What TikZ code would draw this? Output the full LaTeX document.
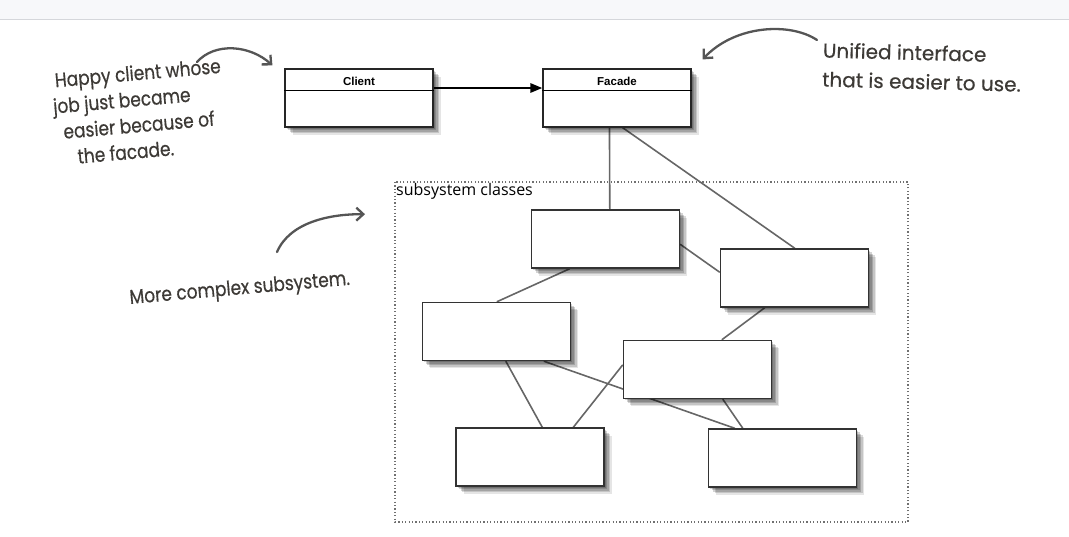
\documentclass[tikz,border=0pt]{standalone}
\usepackage{fontspec}
\setmainfont{Liberation Sans}
\newfontfamily\handfont[FakeStretch=0.85,FakeBold=0.5]{Poppins}
\newfontfamily\handwidefont[FakeStretch=1.0,FakeBold=0.5]{Poppins}
\newfontfamily\labelfont{Open Sans}
\usetikzlibrary{arrows.meta,calc,shadows,backgrounds}

\definecolor{barfill}{HTML}{F7F8FA}
\definecolor{barline}{HTML}{D5D7DB}
\definecolor{notecol}{HTML}{3D3A36}
\definecolor{penline}{HTML}{555555}
\definecolor{wire}{HTML}{666666}
\definecolor{framedots}{HTML}{707070}

\tikzset{
  softshadow/.style={
    general shadow={fill=black, opacity=0.17, shadow xshift=1.5pt, shadow yshift=-1.5pt},
    general shadow={fill=black, opacity=0.17, shadow xshift=3pt, shadow yshift=-3pt},
    general shadow={fill=black, opacity=0.17, shadow xshift=4.5pt, shadow yshift=-4.5pt},
    general shadow={fill=black, opacity=0.14, shadow xshift=6pt, shadow yshift=-6pt},
    general shadow={fill=black, opacity=0.10, shadow xshift=7.5pt, shadow yshift=-7.5pt}},
  classbox/.style={draw=black!85, line width=1.1pt, fill=white,
    minimum width=148pt, minimum height=58pt, inner sep=0pt, softshadow},
  subbox/.style={classbox, draw=black!80, line width=1.4pt},
  classname/.style={font=\bfseries\fontsize{11.5}{13}\selectfont, inner sep=0pt},
  wireline/.style={draw=wire, line width=1.6pt},
  penarrow/.style={draw=penline, line width=2.3pt, line cap=round,
    -{Straight Barb[length=7pt,width=13pt,line width=2.3pt]}},
  note/.style={font=\handfont\fontsize{20}{26}\selectfont, text=notecol,
    inner sep=0pt, align=left},
}

\begin{document}
\begin{tikzpicture}[x=1pt,y=-1pt]
  \useasboundingbox (0,0) rectangle (1069,536);

  % page header strip
  \fill[barfill] (0,0) rectangle (1069,19.5);
  \draw[barline, line width=1pt] (0,19.5) -- (1069,19.5);

  % client and facade classes
  \node[classbox] (client) at (359,98) {};
  \node[classbox] (facade) at (617,98) {};
  \draw[line width=1pt] ([yshift=-22pt]client.north west) -- ([yshift=-22pt]client.north east);
  \draw[line width=1pt] ([yshift=-22pt]facade.north west) -- ([yshift=-22pt]facade.north east);
  \node[classname] (clientname) at (359,81.5) {Client};
  \node[classname] (facadename) at (617,81.5) {Facade};
  \draw[line width=2.6pt, -{Triangle[length=12pt,width=9pt]}]
    ([yshift=10pt]client.east) -- ([yshift=10pt]facade.west);

  % subsystem frame
  \draw[framedots, line width=1.2pt, dash pattern=on 1.2pt off 2.2pt]
    (395,182) rectangle (908,522);
  \node[font=\labelfont\fontsize{16}{18}\selectfont, anchor=north west, inner sep=0pt]
    (subtitle) at (396,183) {subsystem classes};

  % subsystem classes
  \node[subbox] (b1) at (605.5,239) {};
  \node[subbox] (b2) at (794.5,278) {};
  \node[subbox] (b3) at (496.5,331.5) {};
  \node[subbox] (b5) at (530,457) {};
  \node[subbox] (b6) at (782.5,458) {};
  \node[subbox] (b4) at (697.5,369.5) {};

  % associations, drawn beneath the boxes
  \begin{scope}[on background layer]
    \draw[wireline] ($(facade.south west)+(67,0)$) -- ($(b1.north west)+(79,0)$);
    \draw[wireline] ($(facade.south west)+(80,0)$) -- ($(b2.north west)+(75,0)$);
    \draw[wireline] ($(b1.north east)+(0,35)$) -- ($(b2.north west)+(0,24)$);
    \draw[wireline] ($(b1.south west)+(39,0)$) -- ($(b3.north west)+(75,0)$);
    \draw[wireline] ($(b2.south west)+(45,0)$) -- ($(b4.north west)+(99,0)$);
    \draw[wireline] ($(b3.south west)+(84,0)$) -- ($(b5.north west)+(87,0)$);
    \draw[wireline] ($(b3.south west)+(122,0)$) -- ($(b6.north west)+(27,0)$);
    \draw[wireline] ($(b4.south west)+(100,0)$) -- ($(b6.north west)+(35,0)$);
    \draw[wireline] ($(b4.north west)+(0,25)$) -- ($(b5.north west)+(118,0)$);
  \end{scope}

  % hand-written remarks
  \node[note, rotate=5, anchor=north west] (happynote) at (54,72)
    {Happy client whose\\\hspace{-4pt}job just became\\\hspace{4pt}easier because of\\\hspace{16pt}the facade.};
  \node[note, font=\handwidefont\fontsize{20}{29}\selectfont, rotate=-1.5, anchor=north west]
    (unifiednote) at (823,42) {Unified interface\\that is easier to use.};
  \node[note, rotate=5, anchor=base west] (complexnote) at (130,304)
    {More complex subsystem.};

  % pen strokes pointing at the parts
  \coordinate (happytail) at (197,62);
  \coordinate (unifiedtail) at (817,40);
  \coordinate (complextail) at (277,252);
  \draw[penarrow] (happytail) .. controls (215,42) and (250,45) .. ($(client.north west)+(-12,-3)$);
  \draw[penarrow] (unifiedtail) .. controls (790,22) and (735,25) .. ($(facade.north east)+(11,-9)$);
  \draw[penarrow] (complextail) .. controls (290,222) and (330,214) .. ($(subtitle.west)+(-31,23)$);
\end{tikzpicture}
\end{document}
